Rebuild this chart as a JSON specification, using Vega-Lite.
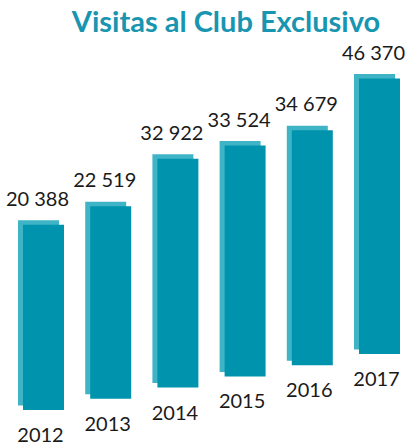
{
  "$schema": "https://vega.github.io/schema/vega-lite/v6.json",
  "width": 406,
  "height": 405,
  "autosize": "none",
  "padding": {"top": 40, "left": 0, "right": 0, "bottom": 0},
  "title": {
    "text": "Visitas al Club Exclusivo",
    "anchor": "middle",
    "dx": 23,
    "dy": 28,
    "offset": 7,
    "font": "Lato",
    "fontSize": 29,
    "fontWeight": "bold",
    "color": "#1895b0",
    "baseline": "alphabetic"
  },
  "data": {
    "values": [
      {"year": 2012, "visits": 20388},
      {"year": 2013, "visits": 22519},
      {"year": 2014, "visits": 32922},
      {"year": 2015, "visits": 33524},
      {"year": 2016, "visits": 34679},
      {"year": 2017, "visits": 46370}
    ]
  },
  "encoding": {
    "x": {
      "field": "year",
      "type": "ordinal",
      "axis": null,
      "scale": {"range": [23, 400], "paddingInner": 0.39, "paddingOuter": 0}
    }
  },
  "layer": [
    {
      "mark": {
        "type": "bar",
        "color": "#3fb4c7",
        "xOffset": -5,
        "x2Offset": -5,
        "yOffset": {"expr": "-11.2*(datum.year-2012)-4.5"},
        "y2Offset": {"expr": "-11.2*(datum.year-2012)-4.5"}
      },
      "encoding": {
        "y": {
          "field": "visits",
          "type": "quantitative",
          "axis": null,
          "scale": {"domain": [-33000, 50000], "range": [370, 82], "zero": false, "nice": false}
        },
        "y2": {"datum": -33000}
      }
    },
    {
      "mark": {
        "type": "bar",
        "color": "#0093ad",
        "yOffset": {"expr": "-11.2*(datum.year-2012)"},
        "y2Offset": {"expr": "-11.2*(datum.year-2012)"}
      },
      "encoding": {
        "y": {"field": "visits", "type": "quantitative"},
        "y2": {"datum": -33000}
      }
    },
    {
      "mark": {
        "type": "text",
        "font": "Lato",
        "fontSize": 20,
        "color": "#1a1a1a",
        "baseline": "middle",
        "dx": -6,
        "dy": -25,
        "yOffset": {"expr": "-11.2*(datum.year-2012)"}
      },
      "encoding": {
        "y": {"field": "visits", "type": "quantitative"},
        "text": {"field": "visits", "type": "quantitative", "format": ",d"}
      }
    },
    {
      "mark": {
        "type": "text",
        "font": "Lato",
        "fontSize": 20,
        "color": "#1a1a1a",
        "baseline": "middle",
        "dx": -3,
        "dy": 26,
        "yOffset": {"expr": "-11.2*(datum.year-2012)"}
      },
      "encoding": {
        "y": {"datum": -33000},
        "text": {"field": "year", "type": "nominal"}
      }
    }
  ],
  "config": {
    "view": {"stroke": null},
    "locale": {
      "number": {"decimal": ",", "thousands": " ", "grouping": [3], "currency": ["", " €"]}
    }
  }
}
